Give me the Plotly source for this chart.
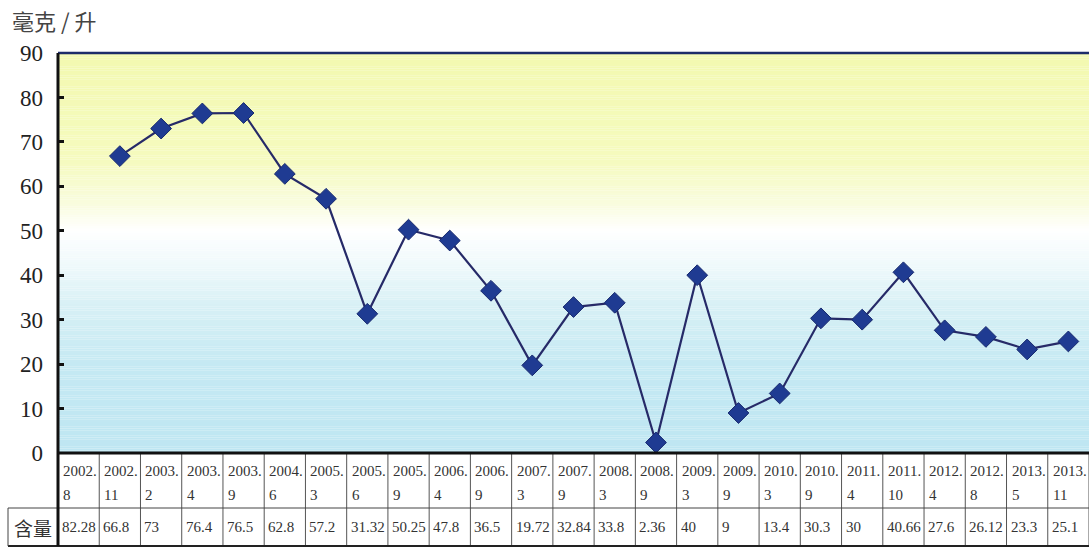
import plotly.graph_objects as go

# Sampling dates (year.month) and measured content, mg/L
dates = ["2002.8", "2002.11", "2003.2", "2003.4", "2003.9", "2004.6", "2005.3",
         "2005.6", "2005.9", "2006.4", "2006.9", "2007.3", "2007.9", "2008.3",
         "2008.9", "2009.3", "2009.9", "2010.3", "2010.9", "2011.4", "2011.10",
         "2012.4", "2012.8", "2013.5", "2013.11"]
values = [82.28, 66.8, 73, 76.4, 76.5, 62.8, 57.2, 31.32, 50.25, 47.8, 36.5,
          19.72, 32.84, 33.8, 2.36, 40, 9, 13.4, 30.3, 30, 40.66, 27.6, 26.12,
          23.3, 25.1]
value_labels = ["82.28", "66.8", "73", "76.4", "76.5", "62.8", "57.2", "31.32",
                "50.25", "47.8", "36.5", "19.72", "32.84", "33.8", "2.36", "40",
                "9", "13.4", "30.3", "30", "40.66", "27.6", "26.12", "23.3", "25.1"]
y_ticks = [0, 10, 20, 30, 40, 50, 60, 70, 80, 90]

# the curve begins at the second sampling
plot_x = list(range(1, len(dates)))
plot_y = values[1:]

W, H = 1089, 548
ML, MR, MT, MB = 58, 0, 53, 95
PW, PH = W - ML - MR, H - MT - MB
n = len(dates)

SERIF = "Liberation Serif, Times New Roman, serif"
CJK = "Noto Sans CJK SC, sans-serif"

fig = go.Figure()
fig.add_trace(go.Scatter(
    x=plot_x, y=plot_y, mode="lines+markers",
    line=dict(color="#262a68", width=2.2),
    marker=dict(symbol="diamond", size=16, color="#1f3b92",
                line=dict(color="#17296e", width=1)),
    cliponaxis=False, hoverinfo="skip", showlegend=False,
))

shapes = []

# vertical background wash: yellow at top, white in the middle, pale blue below
stops = [(0, (190, 230, 242)), (20, (197, 233, 243)), (33, (215, 240, 245)),
         (42, (238, 249, 251)), (50, (255, 255, 255)), (56, (249, 252, 222)),
         (66, (245, 250, 190)), (90, (243, 249, 176))]

def wash(v):
    for (a, ca), (b, cb) in zip(stops[:-1], stops[1:]):
        if a <= v <= b:
            t = (v - a) / (b - a)
            return tuple(round(ca[k] + (cb[k] - ca[k]) * t) for k in range(3))
    return stops[-1][1]

step = 0.5
v = 0.0
while v < 90:
    r, g, b = wash(v + step / 2)
    shapes.append(dict(type="rect", xref="paper", yref="y", x0=0, x1=1,
                       y0=v, y1=v + step, fillcolor=f"rgb({r},{g},{b})",
                       line=dict(width=0), layer="below"))
    v += step

# frame: navy top edge, black left and bottom edges
shapes.append(dict(type="line", xref="paper", yref="paper", x0=0, x1=1, y0=1, y1=1,
                   line=dict(color="#1d2c6a", width=2.5)))

# table grid below the plot
row1 = -55 / PH
row2 = -93 / PH
left_cell = (8 - ML) / PW
for i in range(1, n + 1):
    shapes.append(dict(type="line", xref="x", yref="paper", x0=i - 0.5, x1=i - 0.5,
                       y0=0, y1=row2, line=dict(color="#555", width=1)))
shapes.append(dict(type="line", xref="paper", yref="paper", x0=left_cell, x1=1,
                   y0=row1, y1=row1, line=dict(color="#444", width=1)))
shapes.append(dict(type="line", xref="paper", yref="paper", x0=left_cell, x1=1,
                   y0=row2, y1=row2, line=dict(color="#222", width=2)))
shapes.append(dict(type="line", xref="paper", yref="paper", x0=left_cell, x1=left_cell,
                   y0=row1, y1=row2, line=dict(color="#444", width=1)))
shapes.append(dict(type="line", xref="paper", yref="paper", x0=0, x1=0,
                   y0=1, y1=row2, line=dict(color="#111", width=3)))
shapes.append(dict(type="line", xref="paper", yref="paper", x0=0, x1=1,
                   y0=0, y1=0, line=dict(color="#111", width=3)))

annotations = []
for i, d in enumerate(dates):
    yr, mo = d.split(".")
    annotations.append(dict(x=i - 0.5, y=0, xref="x", yref="paper",
                            text=f"{yr}.", showarrow=False, xanchor="left",
                            yanchor="middle", xshift=3, yshift=-18,
                            font=dict(family=SERIF, size=15, color="#333")))
    annotations.append(dict(x=i - 0.5, y=0, xref="x", yref="paper",
                            text=mo, showarrow=False, xanchor="left",
                            yanchor="middle", xshift=3, yshift=-42,
                            font=dict(family=SERIF, size=15, color="#333")))
    annotations.append(dict(x=i - 0.5, y=0, xref="x", yref="paper",
                            text=value_labels[i], showarrow=False, xanchor="left",
                            yanchor="middle", xshift=2, yshift=-74,
                            font=dict(family=SERIF, size=15, color="#333")))

annotations.append(dict(x=(33 - ML) / PW, y=0, xref="paper", yref="paper",
                        text="含量", showarrow=False, xanchor="center",
                        yanchor="middle", yshift=-74,
                        font=dict(family=CJK, size=19, color="#333")))
annotations.append(dict(x=(10 - ML) / PW, y=1 + (MT - 20) / PH, xref="paper",
                        yref="paper", text="毫克 / 升", showarrow=False,
                        xanchor="left", yanchor="middle",
                        font=dict(family=CJK, size=22, color="#444")))

fig.update_layout(
    width=W, height=H,
    margin=dict(l=ML, r=MR, t=MT, b=MB, pad=0),
    paper_bgcolor="white", plot_bgcolor="white",
    shapes=shapes, annotations=annotations,
    xaxis=dict(range=[-0.5, n - 0.5], showticklabels=False, showgrid=False,
               zeroline=False, showline=False, ticks="", fixedrange=True),
    yaxis=dict(range=[0, 90], tickvals=y_ticks, showgrid=False, zeroline=False,
               showline=False, ticks="inside", ticklen=6, tickwidth=2.5,
               tickcolor="#111", ticklabelstandoff=14,
               tickfont=dict(family=SERIF, size=23, color="#222"), fixedrange=True),
)

fig.write_html("out.html")
